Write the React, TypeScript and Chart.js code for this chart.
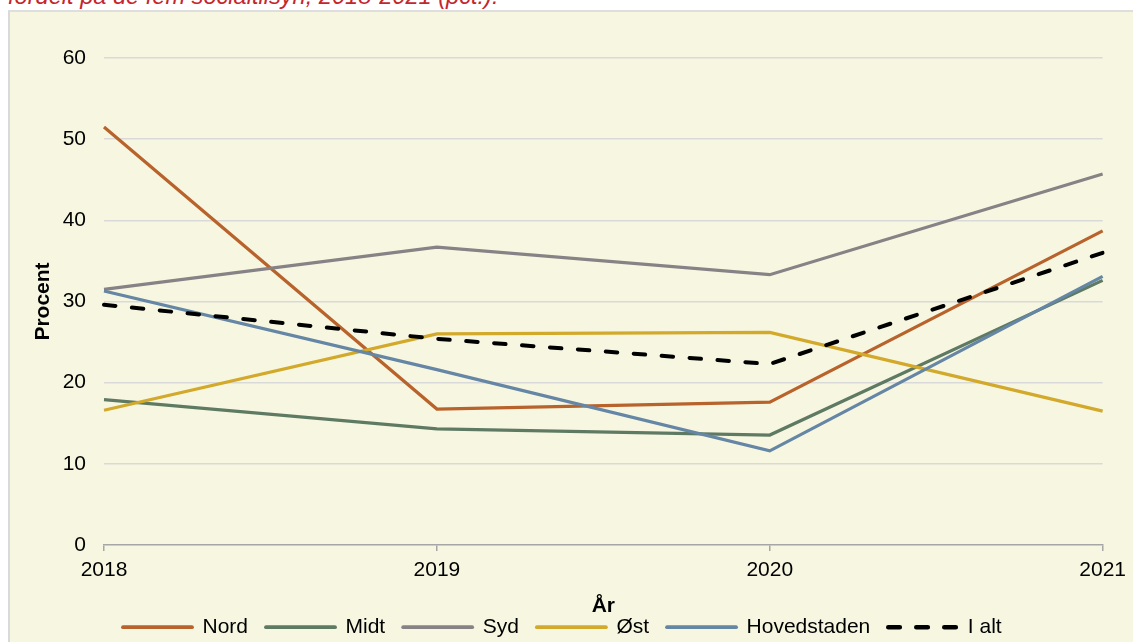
import React, { useEffect, useRef } from 'react';
import { Chart, registerables } from 'chart.js';

Chart.register(...registerables);

const years = ['2018', '2019', '2020', '2021'];
const nord = [51.5, 16.75, 17.6, 38.7];
const midt = [17.9, 14.3, 13.55, 32.6];
const syd = [31.5, 36.7, 33.3, 45.7];
const oest = [16.6, 26.0, 26.2, 16.5];
const hovedstaden = [31.3, 21.6, 11.6, 33.1];
const iAlt = [29.6, 25.4, 22.3, 36.0];
const seriesNames = ['Nord', 'Midt', 'Syd', 'Øst', 'Hovedstaden', 'I alt'];
const yTicks = [0, 10, 20, 30, 40, 50, 60];

const FONT = '"Liberation Sans", Arial, sans-serif';

export default function App() {
  const ref = useRef<HTMLCanvasElement>(null);

  useEffect(() => {
    const colors = ['#b8622c', '#5f7a63', '#878285', '#d2a92b', '#6586a4', '#000000'];
    const values = [nord, midt, syd, oest, hovedstaden, iAlt];
    const datasets = values.map((v, i) => ({
      label: seriesNames[i],
      data: v,
      borderColor: colors[i],
      backgroundColor: colors[i],
      borderWidth: i === 5 ? 4 : 3.2,
      borderDash: i === 5 ? [11.5, 16.5] : [],
      borderCapStyle: i === 5 ? 'round' : 'butt',
      pointRadius: 0,
      tension: 0,
      fill: false,
      order: 6 - i,
    }));

    const legendShift = {
      id: 'legendShift',
      afterLayout(chart: any) {
        const lg = chart.legend;
        if (lg) {
          lg.left += 1;
          lg.right += 1;
        }
      },
    };

    const defaultLabels = (Chart.defaults as any).plugins.legend.labels.generateLabels;

    const chart = new Chart(ref.current as HTMLCanvasElement, {
      type: 'line',
      data: { labels: years, datasets: datasets as any },
      plugins: [legendShift],
      options: {
        responsive: false,
        animation: false,
        layout: { padding: { top: 46, right: 29, bottom: 4.3, left: 0 } },
        plugins: {
          legend: {
            position: 'bottom',
            fullSize: false,
            align: 'start',
            labels: {
              usePointStyle: true,
              pointStyle: 'line',
              pointStyleWidth: 69,
              padding: 18,
              color: '#000',
              font: { family: FONT, size: 21 },
              sort: (a: any, b: any) => a.datasetIndex - b.datasetIndex,
              generateLabels: (ch: any) => {
                const items = defaultLabels(ch);
                items.forEach((it: any) => {
                  const ds = ch.data.datasets[it.datasetIndex];
                  it.lineDash = ds.borderDash;
                  it.lineCap = 'round';
                  it.lineWidth = ds.borderWidth + 0.6;
                  it.strokeStyle = ds.borderColor;
                });
                return items;
              },
            },
          },
          tooltip: { enabled: false },
        },
        scales: {
          x: {
            type: 'category',
            offset: false,
            grid: {
              display: true,
              drawOnChartArea: false,
              drawTicks: true,
              tickLength: 6,
              color: '#a6a6a6',
              lineWidth: 1.5,
            },
            border: { display: true, color: '#a6a6a6', width: 1.5 },
            ticks: {
              padding: 7,
              color: '#000',
              font: { family: FONT, size: 21 },
              maxRotation: 0,
              autoSkip: false,
            },
            title: {
              display: true,
              text: 'År',
              color: '#000',
              font: { family: FONT, size: 21, weight: 'bold' },
              padding: { top: 0, bottom: -19.9 },
            },
            afterFit: (s: any) => {
              s.height = 53.7;
            },
          },
          y: {
            min: 0,
            max: 60,
            afterBuildTicks: (s: any) => {
              s.ticks = yTicks.map((v) => ({ value: v }));
            },
            grid: {
              drawTicks: false,
              color: (c: any) => (c.tick && c.tick.value === 0 ? 'rgba(0,0,0,0)' : '#d9d9d9'),
              lineWidth: 1.5,
            },
            border: { display: false },
            ticks: {
              padding: 18,
              color: '#000',
              font: { family: FONT, size: 21 },
            },
            title: {
              display: true,
              text: 'Procent',
              color: '#000',
              font: { family: FONT, size: 21, weight: 'bold' },
              padding: { top: 21, bottom: 0 },
            },
            afterFit: (s: any) => {
              s.width = 94;
            },
          },
        },
      } as any,
    });
    return () => chart.destroy();
  }, []);

  return (
    <div
      style={{
        position: 'fixed',
        left: 0,
        top: 0,
        width: 1133,
        height: 642,
        overflow: 'hidden',
        background: '#ffffff',
      }}
    >
      <div
        style={{
          position: 'absolute',
          left: 8,
          top: -15,
          fontFamily: FONT,
          fontStyle: 'italic',
          fontSize: 23.6,
          lineHeight: '23.6px',
          color: '#c4262e',
          whiteSpace: 'nowrap',
        }}
      >
        fordelt på de fem socialtilsyn, 2018-2021 (pct.).
      </div>
      <div
        style={{
          position: 'absolute',
          left: 8,
          top: 10,
          width: 1200,
          height: 700,
          background: '#f7f7e1',
          borderLeft: '2px solid #d9d9d9',
          borderTop: '2px solid #dedede',
        }}
      >
        <canvas ref={ref} width={1123} height={640} style={{ display: 'block', width: 1123, height: 640 }} />
      </div>
    </div>
  );
}
